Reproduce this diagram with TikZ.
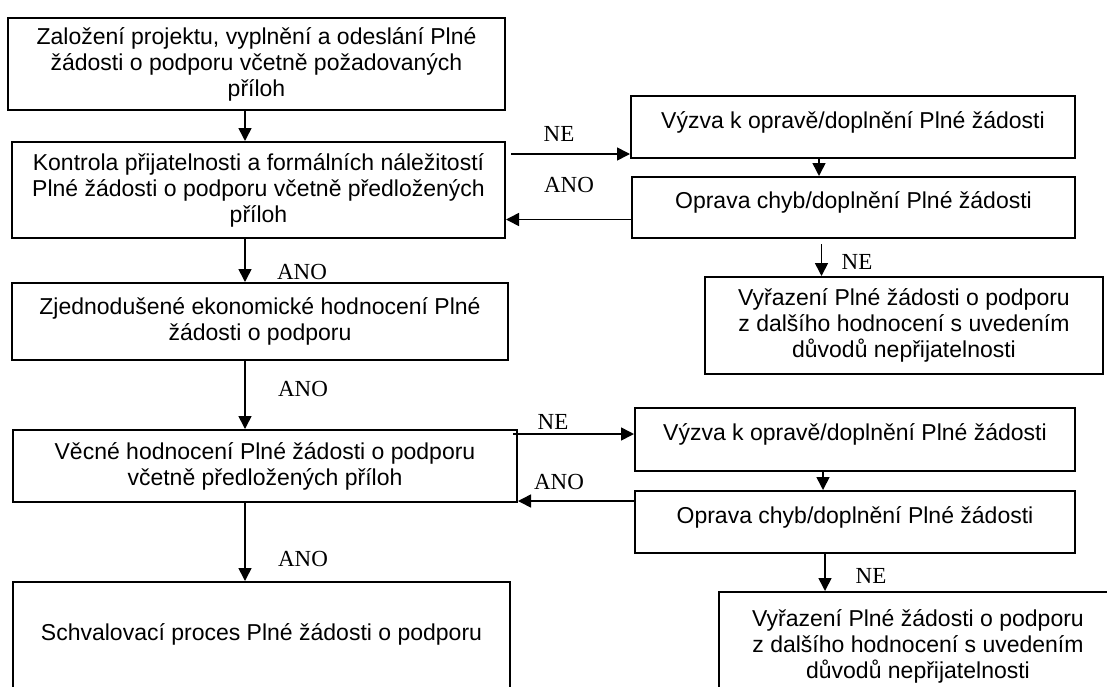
\documentclass[tikz,border=0pt]{standalone}
\usepackage{fontspec}
\setmainfont{Liberation Sans}
\newfontfamily\timesf{Liberation Serif}
\usepackage{tikz}
\usetikzlibrary{calc,arrows.meta,positioning}
\tikzset{
  ar/.style={-{Triangle[length=6.5pt,width=6.5pt]},line width=0.8pt},
  box/.style={draw,line width=1pt,align=center,inner sep=2pt,font=\fontsize{11.5}{13}\selectfont},
  slim/.style={box,text height=8.5pt,text depth=7.5pt},
  lbl/.style={font=\timesf\fontsize{11.5}{13}\selectfont,inner sep=0pt}
}

\begin{document}
\begin{tikzpicture}[x=0.5pt,y=-0.5pt]
\useasboundingbox (0,0) rectangle (1107,686);
\clip (0,0) rectangle (1107,686);
% levy sloupec
\node[box,minimum width=248.5pt,minimum height=46pt] (zalozeni) at (256.5,64) {Založení projektu, vyplnění a odeslání Plné\\žádosti o podporu včetně požadovaných\\příloh};
\node[box,minimum width=246.5pt,minimum height=48pt] (kontrola) at (258.5,190) {Kontrola přijatelnosti a formálních náležitostí\\Plné žádosti o podporu včetně předložených\\příloh};
\node[box,minimum width=248pt,minimum height=38.5pt] (zjednod) at (260,321.5) {Zjednodušené ekonomické hodnocení Plné\\žádosti o podporu};
\node[box,minimum width=252pt,minimum height=36pt] (vecne) at (265,466) {Věcné hodnocení Plné žádosti o podporu\\včetně předložených příloh};
\node[box,text height=8.5pt,text depth=11.5pt,minimum width=248.5pt,minimum height=61pt] (schval) at (261.5,643) {Schvalovací proces Plné žádosti o podporu};
% pravy sloupec
\node[slim,minimum width=222pt,minimum height=31pt] (vyzva1) at (853,127) {Výzva k opravě/doplnění Plné žádosti};
\node[slim,minimum width=221.5pt,minimum height=30.5pt] (oprava1) at (853.5,207.5) {Oprava chyb/doplnění Plné žádosti};
\node[box,minimum width=199pt,minimum height=48.5pt] (vyrazeni1) at (904,325.5) {Vyřazení Plné žádosti o podporu\\z dalšího hodnocení s uvedením\\důvodů nepřijatelnosti};
\node[slim,minimum width=220pt,minimum height=31.5pt] (vyzva2) at (855,439.5) {Výzva k opravě/doplnění Plné žádosti};
\node[slim,minimum width=220pt,minimum height=31pt] (oprava2) at (855,522) {Oprava chyb/doplnění Plné žádosti};
\node[box,minimum width=199pt,minimum height=54pt] (vyrazeni2) at (918,646) {Vyřazení Plné žádosti o podporu\\z dalšího hodnocení s uvedením\\důvodů nepřijatelnosti};
% sipky
\coordinate (osa) at (245,0);
\draw[ar] (zalozeni.south -| osa) -- (kontrola.north -| osa);
\draw[ar] (kontrola.south -| osa) -- (zjednod.north -| osa);
\draw[ar] (zjednod.south -| osa) -- (vecne.north -| osa);
\draw[ar] (vecne.south -| osa) -- (schval.north -| osa);
\draw[ar] ([xshift=2.5pt,yshift=18pt]kontrola.east) coordinate (ne1) -- (ne1 -| vyzva1.west);
\draw[ar] ([yshift=-6pt]oprava1.west) coordinate (ano1) -- (ano1 -| kontrola.east);
\draw[ar] ([xshift=-17pt]vyzva1.south) coordinate (s1) -- (s1 |- oprava1.north);
\draw[ar] ([xshift=-16pt,yshift=-2.5pt]oprava1.south) coordinate (s2) -- (s2 |- vyrazeni1.north);
\draw[ar] ([xshift=-2.5pt,yshift=16pt]vecne.east) coordinate (ne2) -- (ne2 -| vyzva2.west);
\draw[ar] ([yshift=10.5pt]oprava2.west) coordinate (ano2) -- (ano2 -| vecne.east);
\draw[ar] ([xshift=-16pt]vyzva2.south) coordinate (s3) -- (s3 |- oprava2.north);
\draw[ar] ([xshift=-15pt]oprava2.south) coordinate (s4) -- (s4 |- vyrazeni2.north);
% popisky
\node[lbl] (tne1) at (559,134) {NE};
\node[lbl] (tano1) at (569,185) {ANO};
\node[lbl] (tano2) at (302,272) {ANO};
\node[lbl] (tne2) at (857,262) {NE};
\node[lbl] (tano3) at (303,389) {ANO};
\node[lbl] (tne3) at (553,422) {NE};
\node[lbl] (tano4) at (559,482) {ANO};
\node[lbl] (tano5) at (303,559) {ANO};
\node[lbl] (tne4) at (871,576) {NE};
\end{tikzpicture}
\end{document}
